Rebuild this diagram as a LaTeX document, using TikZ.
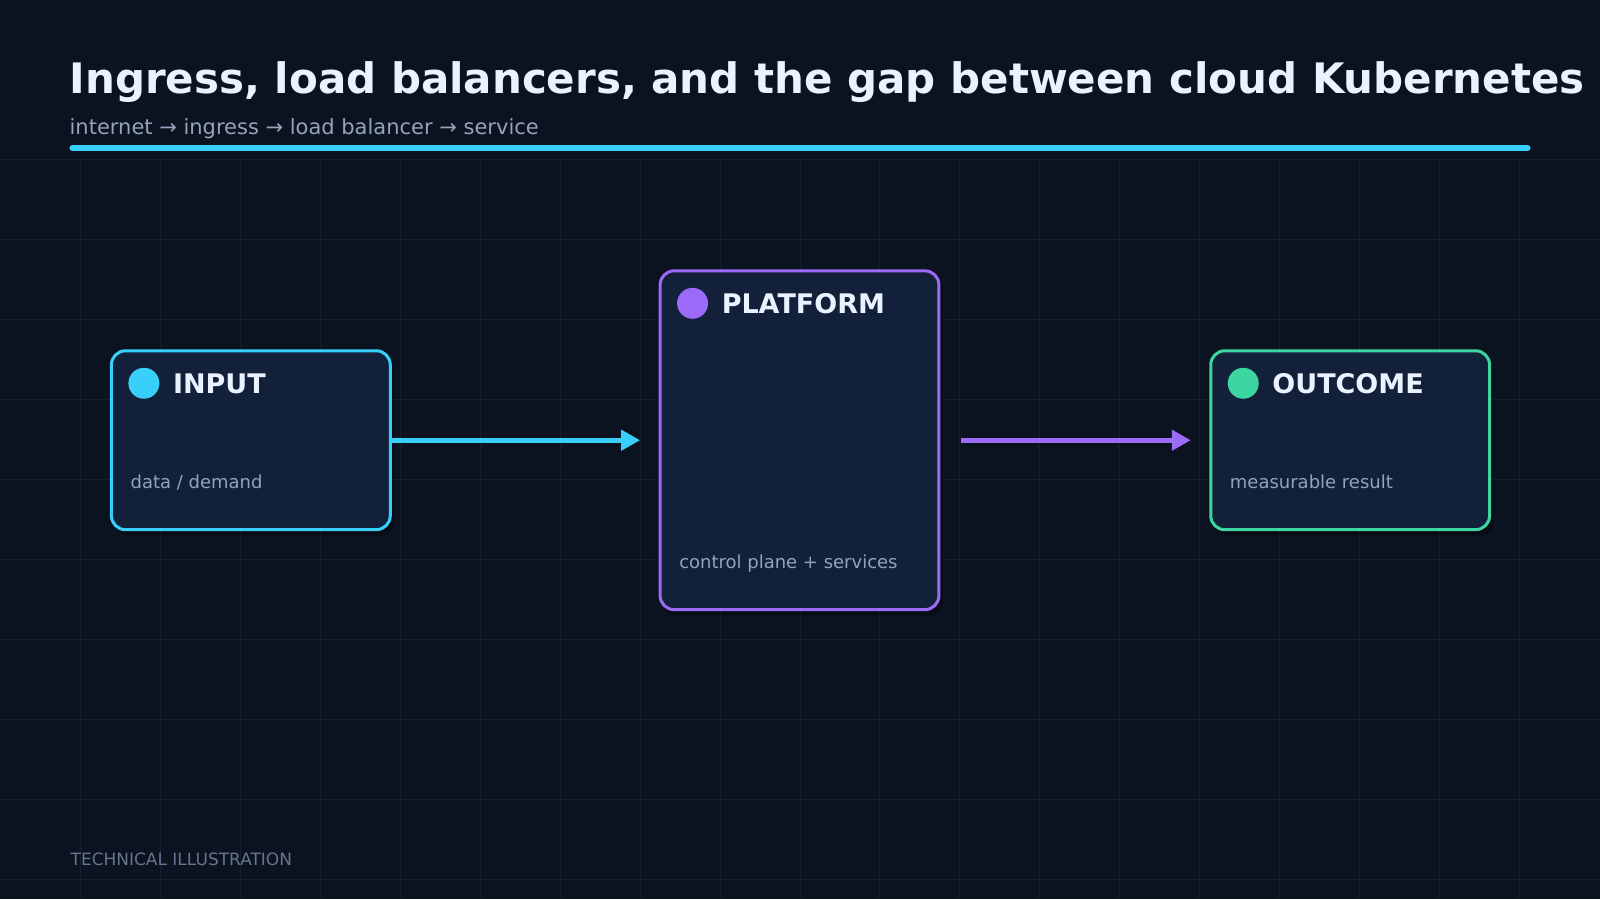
\documentclass[tikz,border=0pt]{standalone}
\usepackage{fontspec}
\setmainfont{DejaVu Sans}
\usepackage{xcolor}
\usepackage{tikz}
\usetikzlibrary{arrows.meta,positioning,shadows}
\definecolor{bgnavy}{HTML}{0B1220}
\definecolor{gridnavy}{HTML}{142032}
\definecolor{cardnavy}{HTML}{12203A}
\definecolor{titlewhite}{HTML}{EAF2FF}
\definecolor{mutedgrey}{HTML}{94A3B8}
\definecolor{footgrey}{HTML}{66758C}
\definecolor{accentcyan}{HTML}{38CFFA}
\definecolor{accentviolet}{HTML}{9B6BF8}
\definecolor{accentgreen}{HTML}{3DD6A0}

\begin{document}
\begin{tikzpicture}[x=1pt, y=-1pt,
    card/.style={draw=#1, line width=3pt, fill=cardnavy, rounded corners=14pt,
      minimum width=279pt, inner sep=0pt, outer sep=0pt,
      drop shadow={shadow xshift=4pt, shadow yshift=-6pt, opacity=0.3, fill=black}},
    dot/.style={circle, fill=#1, minimum size=31pt, inner sep=0pt},
    headtext/.style={anchor=base west, inner sep=0pt, text=titlewhite,
      font=\fontsize{27}{31}\selectfont\bfseries},
    captext/.style={anchor=base west, inner sep=0pt, text=mutedgrey,
      font=\fontsize{18}{22}\selectfont},
    flow/.style={draw=#1, line width=5pt, -{Triangle[length=19pt, width=20pt]}},
    gridline/.style={draw=gridnavy, line width=1pt}]
    % Canvas 1600 x 900, one unit = one pixel of the target.
    \fill[bgnavy] (0,0) rectangle (1600,900);
    \foreach \gx in {80,160,...,1520}
      \draw[gridline] (\gx,160) -- (\gx,900);
    \foreach \gy in {160,240,...,880}
      \draw[gridline] (0,\gy) -- (1600,\gy);
    % Header
    \node[anchor=base west, inner sep=0pt, text=titlewhite,
      font=\fontsize{42}{48}\selectfont\bfseries] (title) at (69,94)
      {Ingress, load balancers, and the gap between cloud Kubernetes};
    \node[anchor=base west, inner sep=0pt, text=mutedgrey,
      font=\fontsize{21}{25}\selectfont] (subtitle) at (69,135)
      {internet → ingress → load balancer → service};
    \draw[accentcyan, line width=6pt, line cap=round] (72,148) -- (1528,148);
    % Cards
    \node[card=accentcyan, minimum height=179pt] (input) at (250.5,440.5) {};
    \node[dot=accentcyan] (inputdot) at ([xshift=32.5pt, yshift=-32.5pt]input.north west) {};
    \node[headtext] (inputhead) at ([xshift=61.5pt, yshift=-43pt]input.north west) {INPUT};
    \node[captext] (inputcap) at ([xshift=19pt, yshift=41pt]input.south west) {data / demand};
    \node[card=accentviolet, minimum height=339pt] (platform) at (799.5,440.5) {};
    \node[dot=accentviolet] (platformdot) at ([xshift=32.5pt, yshift=-32.5pt]platform.north west) {};
    \node[headtext] (platformhead) at ([xshift=61.5pt, yshift=-43pt]platform.north west) {PLATFORM};
    \node[captext] (platformcap) at ([xshift=19pt, yshift=41pt]platform.south west) {control plane + services};
    \node[card=accentgreen, minimum height=179pt] (outcome) at (1350.5,440.5) {};
    \node[dot=accentgreen] (outcomedot) at ([xshift=32.5pt, yshift=-32.5pt]outcome.north west) {};
    \node[headtext] (outcomehead) at ([xshift=61.5pt, yshift=-43pt]outcome.north west) {OUTCOME};
    \node[captext] (outcomecap) at ([xshift=19pt, yshift=41pt]outcome.south west) {measurable result};
    % Connectors
    \draw[flow=accentcyan, shorten >=20pt] (input) -- (platform);
    \draw[flow=accentviolet, shorten <=22pt, shorten >=20pt] (platform) -- (outcome);
    % Footer
    \node[anchor=base west, inner sep=0pt, text=footgrey,
      font=\fontsize{17}{20}\selectfont] (footer) at (70,866) {TECHNICAL ILLUSTRATION};
\end{tikzpicture}
\end{document}
